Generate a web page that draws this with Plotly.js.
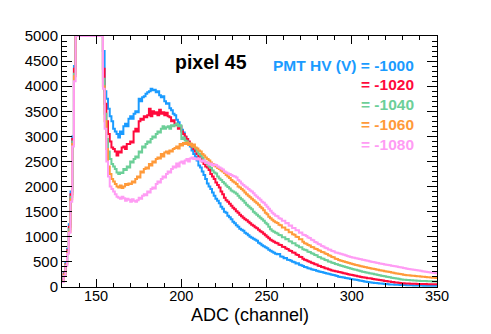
<!DOCTYPE html>
<html>
<head>
<meta charset="utf-8">
<script src="https://cdn.plot.ly/plotly-3.0.1.min.js"></script>
<style>
  html, body { margin: 0; padding: 0; background: #fff; }
  #chart { width: 491px; height: 334px; }
</style>
</head>
<body>
<div id="chart"></div>
<script>
// ADC histograms, 1 channel per bin, first bin at ADC 130
const ADC_START = 130
const BIN_WIDTH = 1

const hvValues = ['-1000', '-1020', '-1040', '-1060', '-1080']
const hvColors = ['#1a9bff', '#ff0a3c', '#6ccf98', '#ff9a3a', '#ff9cf4']

const countsHv1000 = [
  150, 290, 480, 760, 1250, 1900, 3000, 4400,
  5000, 5000, 5000, 5000, 5000, 5000, 5000, 5000, 5000, 5000, 5000, 5000, 5000, 5000, 5000, 5000,
  4700, 3900, 3750, 3550, 3400, 3300, 3150,
  3100, 3050, 2980, 3100, 3050, 3200, 3250, 3200, 3350, 3400, 3350, 3450, 3500, 3480, 3750, 3700, 3780, 3800, 3850, 3880, 3900, 3950,
  3920, 3930, 3880, 3900, 3820, 3780, 3800, 3700, 3650, 3660, 3560, 3520, 3450, 3420, 3330, 3280, 3200, 3130, 3080, 2990, 2950, 2870,
  2800, 2720, 2650, 2600, 2520, 2420, 2380, 2300, 2230, 2150, 2060, 2000, 1950, 1880, 1820, 1760, 1720, 1670, 1600, 1560,
  1500, 1480, 1420, 1390, 1350, 1300, 1270, 1230, 1200, 1160, 1140, 1120, 1080, 1060, 1030, 1000, 980, 960, 940, 920,
  880, 860, 830, 810, 790, 770, 740, 720, 700, 680, 660,
  650, 655, 610, 605, 575, 580, 545, 540, 525, 505, 495, 470, 475, 445, 435, 420,
  400, 395, 375, 370, 355, 345, 340, 325, 315, 305, 300, 290, 280, 270, 262, 255, 245, 240, 228, 220,
  205, 200, 195, 188, 180, 175, 168, 160, 155, 150, 142, 138, 130, 125, 118, 112, 105, 100, 95,
  88, 85, 80, 78, 74, 70, 68, 64, 60, 58, 55, 52, 50, 48, 46, 45, 43, 42, 40, 40,
  38, 37, 35, 34, 33, 32, 31, 30, 30, 29, 28, 27, 27, 26, 26, 25, 25, 24, 24
]

const countsHv1020 = [
  130, 270, 460, 730, 1200, 1850, 2950, 4350,
  5000, 5000, 5000, 5000, 5000, 5000, 5000, 5000, 5000, 5000, 5000, 5000, 5000, 5000, 5000, 5000,
  4350, 3650, 3300, 3050, 2900, 2780, 2750,
  2700, 2620, 2700, 2680, 2780, 2800, 2750, 2850, 2850, 2900, 2880, 3100, 3150, 3100, 3300, 3350, 3330, 3400, 3380, 3420, 3550, 3400,
  3500, 3450, 3480, 3420, 3530, 3450, 3480, 3420, 3470, 3400, 3380, 3300, 3320, 3250, 3220, 3150, 3200, 3100, 3050, 3000, 2950, 2900,
  2850, 2800, 2750, 2700, 2650, 2600, 2550, 2500, 2450, 2400, 2380, 2330, 2250, 2200, 2150, 2080, 2030, 1980, 1900, 1850,
  1780, 1730, 1700, 1660, 1620, 1580, 1550, 1510, 1480, 1440, 1410, 1380, 1350, 1330, 1300, 1270, 1240, 1220, 1190, 1170,
  1140, 1110, 1090, 1060, 1030, 1000, 970, 940, 920, 900, 880,
  870, 840, 835, 800, 795, 765, 755, 725, 715, 685, 680, 645, 635, 605, 600, 565,
  545, 535, 515, 505, 485, 475, 455, 450, 425, 420, 400, 395, 375, 370, 355, 345, 330, 325, 315, 310,
  300, 292, 285, 275, 268, 260, 250, 245, 238, 230, 222, 215, 208, 200, 195, 188, 182, 176, 172,
  168, 160, 155, 150, 145, 140, 135, 128, 122, 118, 112, 108, 102, 98, 92, 88, 84, 80, 76, 74,
  72, 70, 68, 67, 66, 64, 63, 62, 61, 60, 59, 58, 58, 57, 56, 56, 55, 55, 55
]

const countsHv1040 = [
  120, 250, 450, 700, 1150, 1800, 2900, 4250,
  5000, 5000, 5000, 5000, 5000, 5000, 5000, 5000, 5000, 5000, 5000, 5000, 5000, 5000, 5000, 5000,
  4150, 3450, 2950, 2700, 2550, 2450, 2400,
  2350, 2280, 2250, 2280, 2270, 2350, 2330, 2400, 2380, 2500, 2480, 2550, 2600, 2580, 2700, 2680, 2800, 2780, 2850, 2900, 2880, 2950,
  3000, 2980, 3050, 3100, 3080, 3150, 3200, 3150, 3180, 3200, 3150, 3220, 3200, 3230, 3250, 3200, 3220, 2950, 2980, 2920, 2900, 2870,
  2840, 2820, 2790, 2760, 2700, 2650, 2620, 2580, 2520, 2480, 2450, 2400, 2370, 2320, 2280, 2260, 2200, 2160, 2130, 2090,
  2060, 2020, 1990, 1960, 1920, 1900, 1880, 1860, 1820, 1780, 1750, 1720, 1680, 1640, 1610, 1580, 1550, 1500, 1470, 1440,
  1410, 1380, 1350, 1320, 1280, 1250, 1200, 1150, 1120, 1100, 1080,
  1065, 1035, 1030, 990, 990, 950, 955, 910, 905, 870, 870, 830, 820, 790, 790, 750,
  740, 730, 700, 695, 670, 660, 635, 630, 600, 595, 570, 565, 540, 535, 510, 505, 485, 480, 460, 455,
  440, 430, 420, 410, 400, 390, 380, 370, 360, 350, 342, 333, 325, 315, 305, 298, 290, 282, 276,
  270, 262, 255, 248, 240, 233, 226, 218, 212, 205, 198, 192, 186, 180, 172, 168, 162, 156, 150, 145,
  142, 140, 138, 135, 133, 130, 128, 126, 124, 122, 120, 119, 118, 116, 115, 114, 112, 111, 110
]

const countsHv1060 = [
  110, 240, 430, 680, 1100, 1750, 2850, 4200,
  5000, 5000, 5000, 5000, 5000, 5000, 5000, 5000, 5000, 5000, 5000, 5000, 5000, 5000, 5000, 5000,
  4000, 3300, 2750, 2400, 2250, 2150, 2100,
  2050, 2000, 1980, 2020, 1970, 2000, 2050, 2030, 2060, 2050, 2100, 2080, 2150, 2200, 2180, 2300, 2280, 2350, 2380, 2360, 2450, 2420,
  2500, 2480, 2550, 2580, 2560, 2650, 2600, 2680, 2700, 2660, 2720, 2700, 2750, 2770, 2800, 2760, 2850, 2820, 2870, 2850, 2880, 2830,
  2860, 2800, 2840, 2780, 2760, 2720, 2700, 2650, 2620, 2580, 2550, 2520, 2480, 2450, 2420, 2400, 2370, 2350, 2320, 2300,
  2270, 2230, 2200, 2170, 2130, 2100, 2080, 2050, 2000, 1980, 1950, 1920, 1880, 1850, 1820, 1790, 1760, 1730, 1700, 1670,
  1640, 1600, 1570, 1530, 1480, 1450, 1400, 1370, 1340, 1310, 1290,
  1275, 1240, 1230, 1185, 1185, 1140, 1140, 1090, 1090, 1050, 1040, 1000, 995, 950, 950, 900,
  870, 860, 835, 825, 795, 790, 760, 755, 730, 720, 695, 690, 665, 655, 630, 625, 600, 595, 565, 560,
  540, 530, 520, 510, 500, 490, 480, 470, 460, 450, 440, 432, 425, 415, 408, 400, 392, 385, 378,
  370, 365, 358, 350, 343, 336, 330, 322, 316, 310, 303, 297, 290, 283, 276, 270, 263, 257, 252, 246,
  240, 236, 233, 230, 226, 222, 219, 216, 212, 208, 205, 202, 199, 196, 192, 189, 186, 183, 180
]

const countsHv1080 = [
  100, 220, 420, 660, 1080, 1700, 2800, 4100,
  5000, 5000, 5000, 5000, 5000, 5000, 5000, 5000, 5000, 5000, 5000, 5000, 5000, 5000, 5000, 5000,
  3950, 3150, 2500, 2200, 2000, 1950, 1900,
  1850, 1800, 1780, 1760, 1800, 1770, 1720, 1760, 1740, 1700, 1750, 1720, 1700, 1730, 1780, 1760, 1820, 1850, 1830, 1900, 1880, 1950,
  1980, 1960, 2050, 2100, 2080, 2150, 2200, 2180, 2250, 2300, 2280, 2350, 2400, 2380, 2460, 2400, 2480, 2500, 2460, 2520, 2550, 2500,
  2560, 2580, 2550, 2560, 2540, 2560, 2520, 2500, 2520, 2470, 2480, 2440, 2460, 2420, 2440, 2430, 2400, 2380, 2360, 2340,
  2300, 2280, 2260, 2250, 2230, 2210, 2200, 2180, 2130, 2100, 2060, 2030, 2000, 1980, 1950, 1920, 1900, 1870, 1830, 1800,
  1770, 1740, 1700, 1680, 1640, 1600, 1560, 1520, 1480, 1450, 1420,
  1410, 1370, 1360, 1320, 1320, 1270, 1275, 1220, 1225, 1175, 1175, 1130, 1130, 1080, 1085, 1040,
  1035, 1015, 985, 975, 940, 930, 895, 885, 855, 845, 815, 805, 780, 770, 745, 740, 715, 710, 685, 680,
  670, 660, 650, 640, 630, 620, 610, 600, 590, 582, 575, 567, 560, 552, 545, 538, 530, 522, 515,
  505, 500, 492, 485, 478, 470, 464, 458, 450, 444, 438, 431, 425, 418, 412, 406, 400, 392, 386, 380,
  372, 366, 361, 355, 350, 344, 338, 333, 327, 322, 316, 310, 305, 300, 294, 288, 283, 277, 272
]

const allCounts = [countsHv1000, countsHv1020, countsHv1040, countsHv1060, countsHv1080]

const FONT = 'Liberation Sans, Arial, Helvetica, sans-serif'

// step outline: bin edges on x, last bin value repeated to close the final step
const traces = allCounts.map((counts, i) => {
  const x = []
  for (let k = 0; k <= counts.length; k++) x.push(ADC_START + k * BIN_WIDTH)
  return {
    x,
    y: counts.concat([counts[counts.length - 1]]),
    type: 'scatter',
    mode: 'lines',
    line: {shape: 'hv', color: hvColors[i], width: 2},
    name: hvValues[i],
    hoverinfo: 'none'
  }
})

// plot area in pixels, used to place the text boxes
const PLOT_L = 62, PLOT_R = 437, PLOT_T = 36, PLOT_B = 287
const px = (p) => (p - PLOT_L) / (PLOT_R - PLOT_L)
const py = (p) => (PLOT_B - p) / (PLOT_B - PLOT_T)

const annotations = [{
  text: '<b>pixel 45</b>',
  xref: 'paper', yref: 'paper',
  x: px(173), y: py(62),
  xanchor: 'left', yanchor: 'middle',
  showarrow: false,
  font: {family: FONT, size: 19.5, color: '#000'}
}, {
  // x axis title, centred under the frame
  text: 'ADC (channel)',
  xref: 'paper', yref: 'paper',
  x: 0.5, y: py(315),
  xanchor: 'center', yanchor: 'middle',
  showarrow: false,
  font: {family: FONT, size: 18, color: '#000'}
}]
hvValues.forEach((hv, i) => {
  annotations.push({
    text: `<b>${i === 0 ? 'PMT HV (V) ' : ''}= ${hv}</b>`,
    xref: 'paper', yref: 'paper',
    x: px(416), y: py(65 + i * 19.8),
    xanchor: 'right', yanchor: 'middle',
    showarrow: false,
    font: {family: FONT, size: 15.5, color: hvColors[i]}
  })
})

const axisBase = {
  showline: true,
  linecolor: '#000',
  linewidth: 1,
  mirror: 'ticks',
  ticks: 'inside',
  tickcolor: '#000',
  tickwidth: 1,
  showgrid: false,
  zeroline: false,
  tickfont: {family: FONT, size: 15, color: '#000'}
}

const layout = {
  width: 491,
  height: 334,
  margin: {l: PLOT_L, r: 491 - PLOT_R, t: PLOT_T, b: 334 - PLOT_B},
  paper_bgcolor: '#fff',
  plot_bgcolor: '#fff',
  showlegend: false,
  hovermode: false,
  xaxis: {
    ...axisBase,
    range: [130, 350],
    tickmode: 'linear',
    tick0: 150,
    dtick: 50,
    ticklen: 8,
    ticklabelstandoff: -4,
    tickfont: {family: FONT, size: 14.5, color: '#000'},
    minor: {dtick: 10, tick0: 130, ticks: 'inside', ticklen: 4, tickcolor: '#000', tickwidth: 1}
  },
  yaxis: {
    ...axisBase,
    range: [0, 5000],
    tickmode: 'linear',
    tick0: 0,
    dtick: 500,
    ticklen: 10,
    minor: {dtick: 100, ticks: 'inside', ticklen: 5, tickcolor: '#000', tickwidth: 1}
  },
  annotations
}

Plotly.newPlot('chart', traces, layout, {staticPlot: true, displayModeBar: false})
</script>
</body>
</html>
